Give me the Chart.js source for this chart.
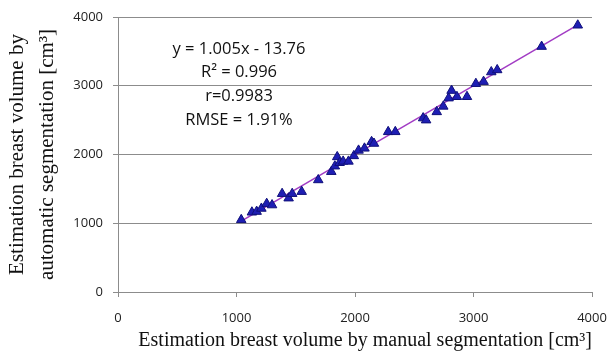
<!DOCTYPE html>
<html>
<head>
<meta charset="utf-8">
<script src="https://cdn.jsdelivr.net/npm/chart.js@4/dist/chart.umd.min.js"></script>
<style>
  html, body { margin:0; padding:0; background:#fff; }
  #wrap { position:relative; width:608px; height:352px; }
</style>
</head>
<body>
<div id="wrap"><canvas id="chart" width="608" height="352"></canvas></div>
<script>
// volumes (cm3)
const manualVol = [1040, 1130, 1170, 1210, 1255, 1300, 1385, 1440, 1470, 1550, 1690, 1800, 1830, 1850, 1870, 1900, 1945, 1990, 2030, 2080, 2140, 2160, 2280, 2340, 2575, 2600, 2690, 2745, 2790, 2815, 2860, 2945, 3020, 3085, 3150, 3200, 3575, 3880];
const autoVol   = [1050, 1160, 1170, 1215, 1285, 1265, 1430, 1365, 1430, 1460, 1630, 1750, 1830, 1965, 1880, 1900, 1900, 1980, 2060, 2090, 2185, 2160, 2330, 2330, 2530, 2500, 2620, 2700, 2820, 2930, 2840, 2840, 3030, 3060, 3200, 3230, 3570, 3880];
const axisTicks = [0, 1000, 2000, 3000, 4000];
const fitSlope = 1.005, fitIntercept = -13.76;
const statLines = ['y = 1.005x - 13.76', 'R² = 0.996', 'r=0.9983', 'RMSE = 1.91%'];

const points = manualVol.map((x, i) => ({ x, y: autoVol[i] }));
const xMin = Math.min(...manualVol), xMax = Math.max(...manualVol);
const fitLine = [xMin, xMax].map(x => ({ x, y: fitSlope * x + fitIntercept }));

const tickFont = { family:'Open Sans', size:13 };
const plainNum = v => String(v);

// regression text block
const statsText = {
  id:'statsText',
  afterDraw(chart) {
    const { ctx } = chart;
    ctx.save();
    ctx.font = '16.5px "Open Sans"';
    ctx.fillStyle = '#111';
    ctx.textAlign = 'center';
    ctx.textBaseline = 'middle';
    statLines.forEach((t, i) => ctx.fillText(t, 239, 49 + i * 23.7));
    ctx.restore();
  }
};

new Chart(document.getElementById('chart'), {
  type:'scatter',
  data:{
    datasets:[
      { label:'fit', data: fitLine, showLine:true, borderColor:'#a23cc4', borderWidth:1.5, pointRadius:0, order:2 },
      { label:'volume', data: points, pointStyle:'triangle', pointRadius:5.5, backgroundColor:'#1e1eb4', borderColor:'#10107a', borderWidth:1, order:1 }
    ]
  },
  options:{
    responsive:false,
    animation:false,
    layout:{ padding:{ top:17, right:16, left:0, bottom:0 } },
    plugins:{ legend:{ display:false }, tooltip:{ enabled:false } },
    scales:{
      x:{
        type:'linear', min:0, max:4000,
        afterBuildTicks: s => { s.ticks = axisTicks.map(v => ({ value:v })); },
        afterFit: s => { s.height = 60; s.paddingRight = 0; s.paddingLeft = 0; },
        grid:{ drawOnChartArea:false, drawTicks:true, tickLength:5, color:'#8c8c8c' },
        border:{ color:'#8c8c8c' },
        ticks:{ font:tickFont, color:'#222', padding:13, maxRotation:0, callback:plainNum },
        title:{ display:true, text:'Estimation breast volume by manual segmentation [cm³]', font:{ family:'Liberation Serif', size:20 }, color:'#111', align:'end', padding:{ top:0, bottom:-1 } }
      },
      y:{
        type:'linear', min:0, max:4000,
        afterBuildTicks: s => { s.ticks = axisTicks.map(v => ({ value:v })); },
        afterFit: s => { s.width = 118; s.paddingTop = 0; s.paddingBottom = 0; },
        grid:{ color:'#8c8c8c', tickLength:5 },
        border:{ color:'#8c8c8c' },
        ticks:{ font:tickFont, color:'#222', padding:10, callback:plainNum },
        title:{ display:true, text:['Estimation breast volume by', 'automatic segmentation [cm³]'], font:{ family:'Liberation Serif', size:21, lineHeight:1.43 }, color:'#111', padding:{ top:2, bottom:0 } }
      }
    }
  },
  plugins:[statsText]
});
</script>
</body>
</html>
